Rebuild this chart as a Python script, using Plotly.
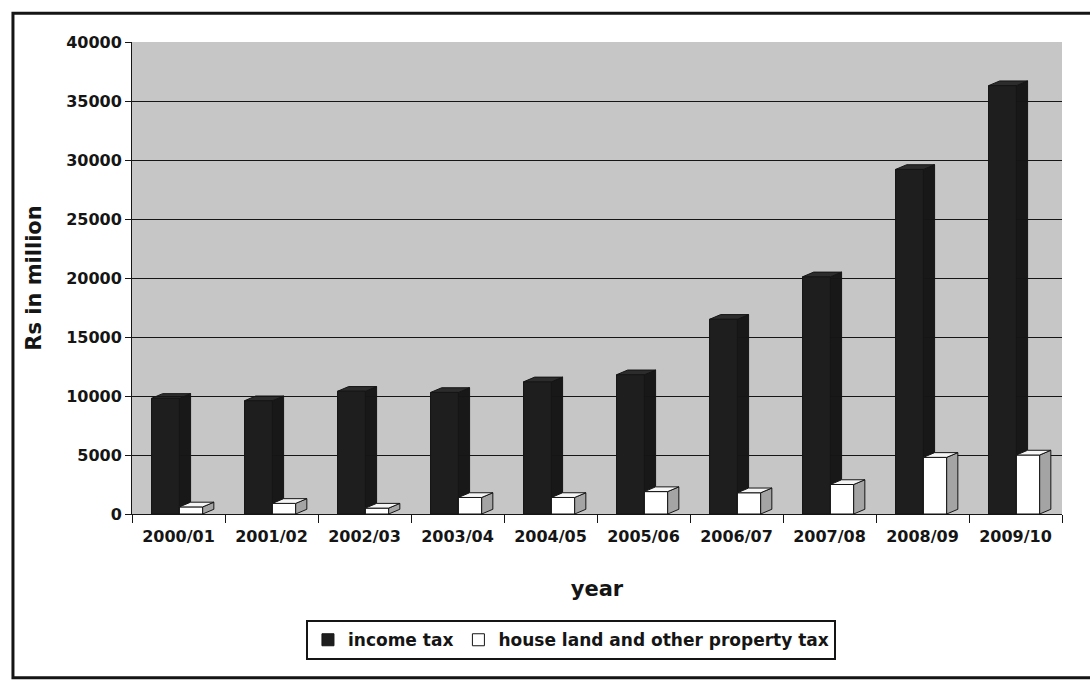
import plotly.graph_objects as go

# Tax revenue by fiscal year (Rs in million)
years = ["2000/01", "2001/02", "2002/03", "2003/04", "2004/05",
         "2005/06", "2006/07", "2007/08", "2008/09", "2009/10"]
income_tax = [9800, 9600, 10400, 10300, 11200, 11800, 16500, 20100, 29200, 36300]
property_tax = [600, 900, 500, 1400, 1400, 1900, 1800, 2500, 4800, 5000]

FONT = "DejaVu Sans, Arial, sans-serif"
INK = "#151515"

# bar placement inside each category slot (category units)
INC_OFF, INC_W = -0.29, 0.30
PROP_OFF, PROP_W = 0.01, 0.25
# pseudo-3D depth of the columns
DX, DY = 0.12, 400

fig = go.Figure()
fig.add_bar(
    x=years, y=income_tax, name="income tax",
    offset=INC_OFF, width=INC_W,
    marker=dict(color="#1e1e1e", line=dict(color=INK, width=1)),
)
fig.add_bar(
    x=years, y=property_tax, name="house land and other property tax",
    offset=PROP_OFF, width=PROP_W,
    marker=dict(color="white", line=dict(color=INK, width=1)),
)

# side and top faces that give the columns their depth
shapes = []
def depth_faces(values, off, w, side_fill, top_fill, layer):
    for i, v in enumerate(values):
        l = i + off
        r = l + w
        shapes.append(dict(
            type="path", xref="x2", yref="y",
            path=f"M {r},0 L {r+DX},{DY} L {r+DX},{v+DY} L {r},{v} Z",
            fillcolor=side_fill, line=dict(color=INK, width=1), layer=layer,
        ))
        shapes.append(dict(
            type="path", xref="x2", yref="y",
            path=f"M {l},{v} L {l+DX},{v+DY} L {r+DX},{v+DY} L {r},{v} Z",
            fillcolor=top_fill, line=dict(color=INK, width=1), layer=layer,
        ))

# income-tax depth sits behind the property-tax columns
depth_faces(income_tax, INC_OFF, INC_W, "#181818", "#2c2c2c", "below")
depth_faces(property_tax, PROP_OFF, PROP_W, "#a4a4a4", "#f6f6f6", "above")

# outer chart frame
shapes.append(dict(
    type="rect", xref="paper", yref="paper",
    x0=-0.128, x1=1.04, y0=-0.347, y1=1.061,
    line=dict(color=INK, width=3), fillcolor="rgba(0,0,0,0)", layer="above",
))

fig.update_layout(
    width=1090, height=682,
    margin=dict(l=132, r=28, t=42, b=168),
    paper_bgcolor="white",
    plot_bgcolor="#c6c6c6",
    barmode="overlay",
    font=dict(family=FONT, color=INK),
    shapes=shapes,
    showlegend=True,
    legend=dict(
        orientation="h",
        x=0.472, xanchor="center",
        y=-0.225, yanchor="top",
        bordercolor=INK, borderwidth=2, bgcolor="white",
        font=dict(family=FONT, size=17, weight="bold", color=INK),
        itemwidth=30,
        traceorder="normal",
    ),
    xaxis=dict(
        type="category",
        tickson="boundaries",
        ticks="outside", ticklen=8, tickcolor=INK, tickwidth=1,
        ticklabelstandoff=8,
        showline=True, linecolor=INK, linewidth=1,
        showgrid=False,
        tickfont=dict(family=FONT, size=16, weight="bold", color=INK),
        title=dict(text="year", standoff=36,
                   font=dict(family=FONT, size=21, weight="bold", color=INK)),
    ),
    xaxis2=dict(
        overlaying="x", range=[-0.5, 9.5], visible=False, fixedrange=True,
    ),
    yaxis=dict(
        range=[0, 40000], dtick=5000, tickformat="d",
        showgrid=True, gridcolor=INK, gridwidth=1,
        zeroline=False,
        showline=True, linecolor=INK, linewidth=1,
        ticks="outside", ticklen=6, tickcolor=INK,
        tickfont=dict(family=FONT, size=16, weight="bold", color=INK),
        title=dict(text="Rs in million", standoff=18,
                   font=dict(family=FONT, size=21, weight="bold", color=INK)),
    ),
)

fig.write_html("out.html")
